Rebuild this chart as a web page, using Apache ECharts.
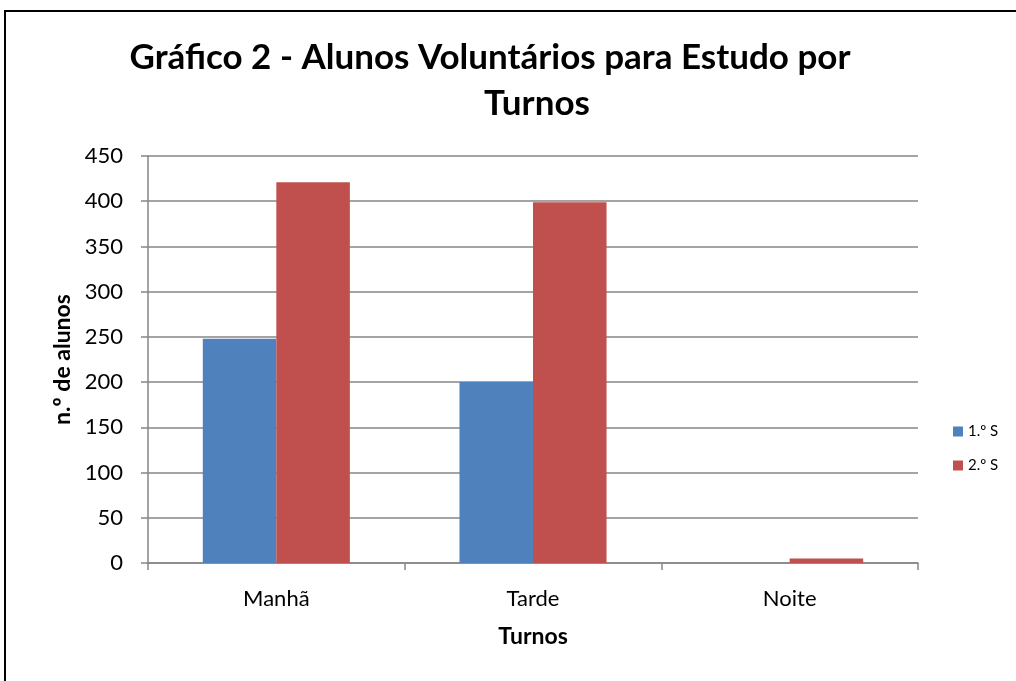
<!DOCTYPE html>
<html>
<head>
<meta charset="utf-8">
<script src="https://cdn.jsdelivr.net/npm/echarts@6/dist/echarts.min.js"></script>
<style>
  html, body { margin: 0; padding: 0; background: #fff; }
  #chart { width: 1016px; height: 681px; }
</style>
</head>
<body>
<div id="chart"></div>
<script>
// categories and values
var turnos = ['Manhã', 'Tarde', 'Noite']
var semestre1 = [248, 200, 0]
var semestre2 = [421, 399, 5]
var yTicks = { min: 0, max: 450, interval: 50 }

var font = 'Lato, "Open Sans", sans-serif'
var chart = echarts.init(document.getElementById('chart'))

var titleStyle = {
  fontFamily: font,
  fontSize: 35,
  fontWeight: 'bold',
  color: '#000'
}

chart.setOption({
  backgroundColor: '#fff',
  animation: false,
  textStyle: { fontFamily: font },
  graphic: [{
    type: 'rect',
    shape: { x: 5, y: 11, width: 1100, height: 800 },
    style: { fill: 'none', stroke: '#000', lineWidth: 2 },
    silent: true
  }],
  // title wraps in two lines, each centred on its own
  title: [{
    text: 'Gráfico 2 - Alunos Voluntários para Estudo por',
    left: 485,
    top: 35,
    textAlign: 'center',
    textStyle: titleStyle
  }, {
    text: 'Turnos',
    left: 532,
    top: 81,
    textAlign: 'center',
    textStyle: titleStyle
  }],
  legend: {
    orient: 'vertical',
    left: 948,
    top: 419,
    itemWidth: 10,
    itemHeight: 10,
    itemGap: 19,
    icon: 'rect',
    textStyle: { fontFamily: font, fontSize: 15, color: '#000' },
    data: ['1.º S', '2.º S']
  },
  grid: {
    left: 148,
    right: 98,
    top: 156,
    bottom: 118
  },
  xAxis: {
    type: 'category',
    data: turnos,
    name: 'Turnos',
    nameLocation: 'middle',
    nameGap: 62,
    nameTextStyle: { fontFamily: font, fontSize: 23, fontWeight: 'bold', color: '#000' },
    axisLine: { lineStyle: { color: '#868686', width: 1.5 } },
    axisTick: { show: true, length: 7, lineStyle: { color: '#868686', width: 1.5 } },
    axisLabel: { fontFamily: font, fontSize: 22, color: '#000', margin: 25 }
  },
  yAxis: {
    type: 'value',
    min: yTicks.min,
    max: yTicks.max,
    interval: yTicks.interval,
    name: 'n.º de alunos',
    nameLocation: 'middle',
    nameRotate: 90,
    nameGap: 74,
    nameTextStyle: { fontFamily: font, fontSize: 23, fontWeight: 'bold', color: '#000' },
    axisLine: { show: true, lineStyle: { color: '#868686', width: 1.5 } },
    axisTick: { show: true, length: 7, lineStyle: { color: '#868686', width: 1.5 } },
    axisLabel: { fontFamily: font, fontSize: 22, color: '#000', margin: 25 },
    splitLine: { lineStyle: { color: '#868686', width: 1.5 } }
  },
  series: [
    {
      name: '1.º S',
      type: 'bar',
      data: semestre1,
      barGap: '0%',
      barCategoryGap: '42.7%',
      itemStyle: { color: '#4f81bd' }
    },
    {
      name: '2.º S',
      type: 'bar',
      data: semestre2,
      barGap: '0%',
      barCategoryGap: '42.7%',
      itemStyle: { color: '#c0504d' }
    }
  ]
})
</script>
</body>
</html>
